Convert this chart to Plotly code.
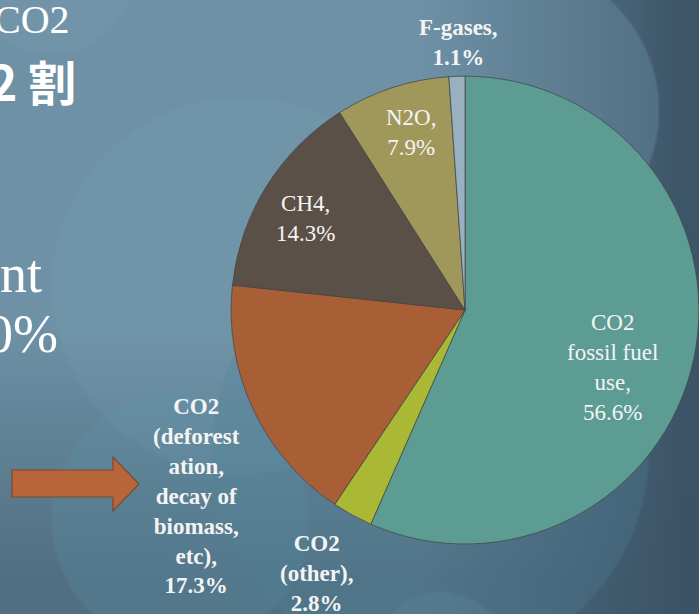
import base64
import struct
import zlib

import numpy as np
import plotly.graph_objects as go

# ---------------- data ----------------
slice_names = [
    "CO2<br>fossil fuel<br>use",
    "CO2<br>(other)",
    "CO2<br>(deforest<br>ation,<br>decay of<br>biomass,<br>etc)",
    "CH4",
    "N2O",
    "F-gases",
]
slice_values = [56.6, 2.8, 17.3, 14.3, 7.9, 1.1]
slice_colors = ["#5c9c93", "#a9b935", "#a95f36", "#5b5047", "#a0975b", "#98b0bf"]

side_text = ["CO2", "<b>2 割</b>", "nt", "0%"]

W, H = 699, 614


# ---------------- background image (slide gradient + bokeh circles) ----------------
def make_background():
    yy, xx = np.mgrid[0:H, 0:W].astype(float)
    light = np.array([110, 145, 165], float)
    dark = np.array([58, 82, 102], float)
    tx = np.clip((xx - 420) / 260, 0, 1) * 0.95
    ty = np.clip((yy - 330) / 250, 0, 1) * 0.55
    t = 1 - (1 - tx) * (1 - ty)
    img = light[None, None, :] * (1 - t[..., None]) + dark[None, None, :] * t[..., None]

    circles = [
        (240, 285, 190, (130, 170, 190), 0.12),
        (180, 520, 130, (90, 150, 170), 0.22),
        (510, 110, 150, (110, 145, 165), 0.40),
        (50, -30, 85, (130, 170, 190), 0.15),
        (430, 450, 220, (80, 130, 150), 0.30),
        (440, 660, 70, (120, 165, 185), 0.12),
    ]
    for cx, cy, r, col, a in circles:
        d = np.sqrt((xx - cx) ** 2 + (yy - cy) ** 2)
        m = np.clip((r - d) / 3.0, 0, 1) * a
        img = img * (1 - m[..., None]) + np.array(col, float)[None, None, :] * m[..., None]
    return np.clip(img, 0, 255).astype(np.uint8)


def png_uri(arr):
    h, w, _ = arr.shape
    raw = b"".join(b"\x00" + arr[i].tobytes() for i in range(h))

    def chunk(tag, data):
        c = struct.pack(">I", len(data)) + tag + data
        return c + struct.pack(">I", zlib.crc32(tag + data) & 0xFFFFFFFF)

    png = b"\x89PNG\r\n\x1a\n"
    png += chunk(b"IHDR", struct.pack(">IIBBBBB", w, h, 8, 2, 0, 0, 0))
    png += chunk(b"IDAT", zlib.compress(raw, 9))
    png += chunk(b"IEND", b"")
    return "data:image/png;base64," + base64.b64encode(png).decode()


def px(x):
    return x / W


def py(y):
    return 1 - y / H


fig = go.Figure()

fig.add_trace(
    go.Pie(
        labels=slice_names,
        values=slice_values,
        sort=False,
        direction="clockwise",
        rotation=0,
        textinfo="none",
        marker=dict(colors=slice_colors, line=dict(color="rgba(70,70,70,0.75)", width=1)),
        domain=dict(x=[0.3305, 1.0], y=[0.114, 0.876]),
        hovertemplate="%{label}: %{value}%<extra></extra>",
        showlegend=False,
    )
)

# slice labels
label_pos = [
    (612, 367, 23, False),
    (316, 573, 23, True),
    (196, 496, 23, True),
    (305, 219, 23, False),
    (411, 132, 23, False),
    (458, 42, 23, True),
]
annotations = []
for name, val, (x, y, fs, bold) in zip(slice_names, slice_values, label_pos):
    txt = f"{name},<br>{val}%"
    if bold:
        txt = f"<b>{txt}</b>"
    annotations.append(
        dict(
            x=px(x), y=py(y), xref="paper", yref="paper", text=txt, showarrow=False,
            xanchor="center", yanchor="middle",
            font=dict(family="Liberation Serif", size=fs, color="#f4f4f4"),
        )
    )

# cut-off slide text on the left
side_pos = [(72, 19, 40, "Liberation Serif"), (78, 80, 48, "Noto Sans CJK JP"),
            (44, 274, 54, "Liberation Serif"), (60, 334, 54, "Liberation Serif")]
for txt, (x, y, fs, fam) in zip(side_text, side_pos):
    annotations.append(
        dict(
            x=px(x), y=py(y), xref="paper", yref="paper", text=txt, showarrow=False,
            xanchor="right", yanchor="middle",
            font=dict(family=fam, size=fs, color="#ffffff"),
        )
    )

# arrow shape
arrow_pts = [(12, 470), (113, 470), (113, 457), (139, 484), (113, 511), (113, 497), (12, 497)]
path = "M " + " L ".join(f"{px(x):.5f},{py(y):.5f}" for x, y in arrow_pts) + " Z"
shapes = [
    dict(type="path", path=path, xref="paper", yref="paper",
         fillcolor="#b8653a", line=dict(color="#7a4a30", width=1.2), layer="above"),
]

fig.update_layout(
    width=W, height=H,
    margin=dict(l=0, r=0, t=0, b=0),
    paper_bgcolor="#6e91a5",
    plot_bgcolor="rgba(0,0,0,0)",
    annotations=annotations,
    shapes=shapes,
    images=[dict(source=png_uri(make_background()), xref="paper", yref="paper",
                 x=0, y=1, sizex=1, sizey=1, xanchor="left", yanchor="top",
                 sizing="stretch", layer="below")],
)

fig.write_html(
    "out.html",
    config={"displayModeBar": False},
    post_script="document.body.style.margin='0';document.body.style.overflow='hidden';",
)
